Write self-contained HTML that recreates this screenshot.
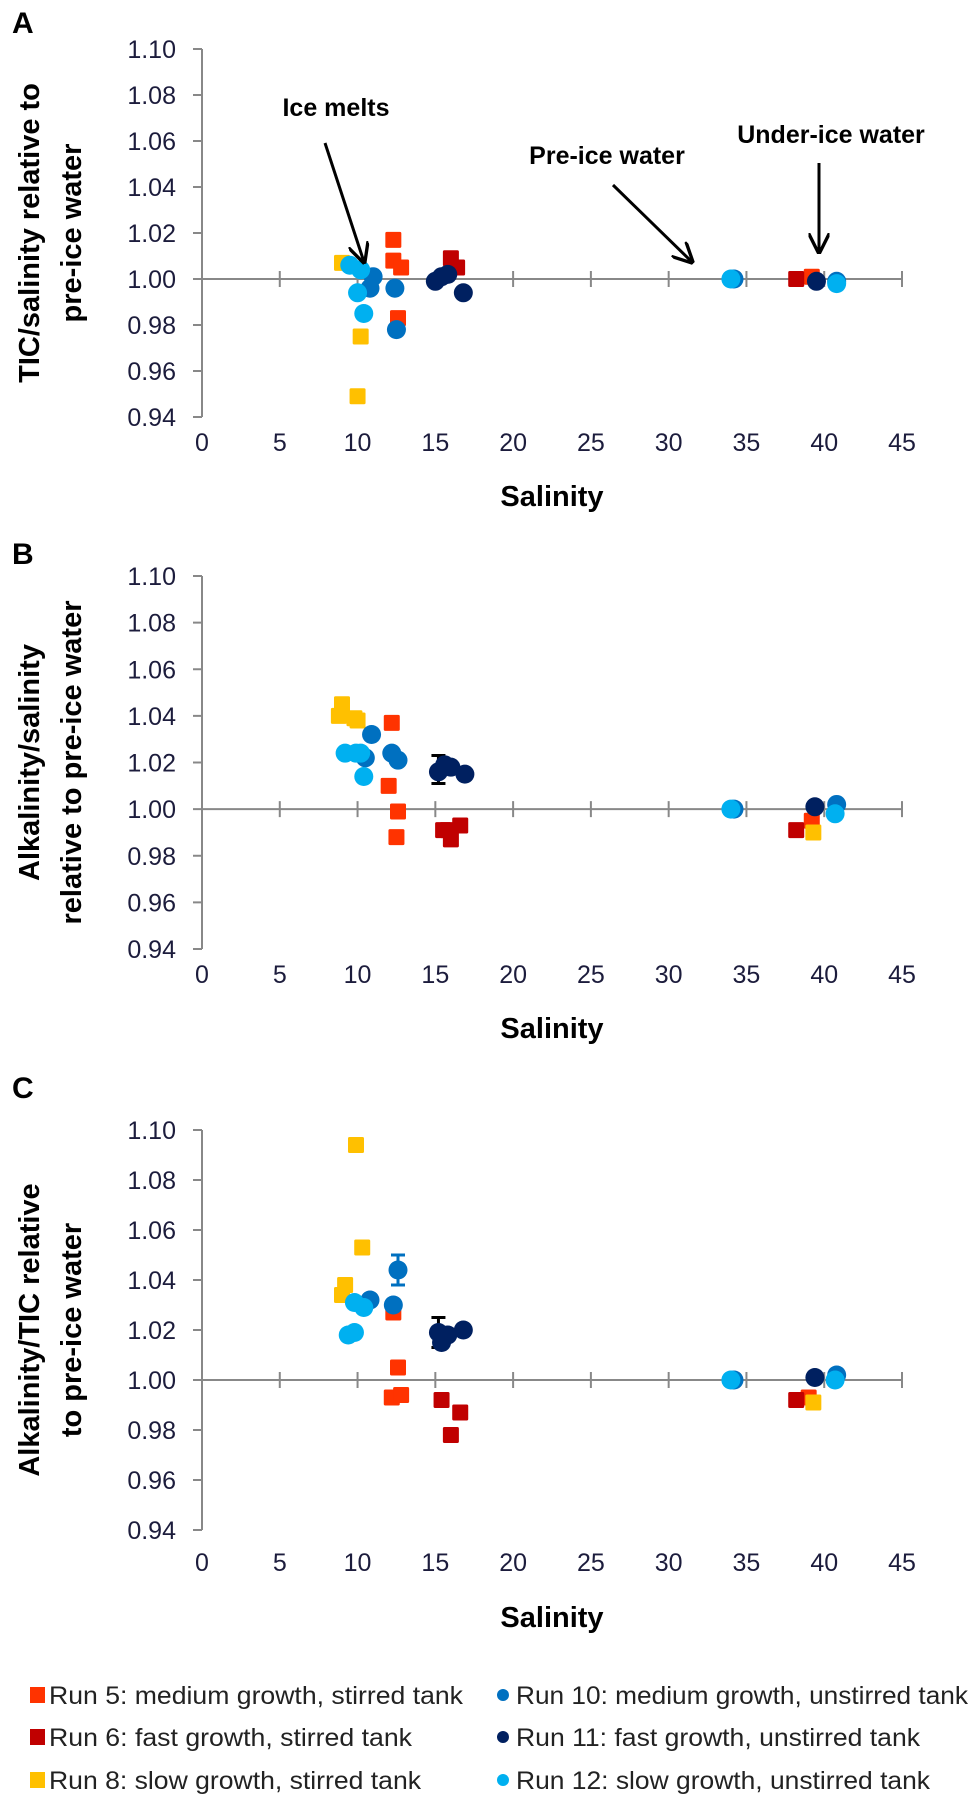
<!DOCTYPE html>
<html><head><meta charset="utf-8">
<style>
html,body{margin:0;padding:0;background:#fff;}
svg{display:block;font-family:"Liberation Sans",Arial,sans-serif;}
.tick{font-size:25px;fill:#1c1c3c;}
.ttl{font-size:29px;font-weight:bold;fill:#000;}
.ytl{font-size:29px;font-weight:bold;fill:#000;}
.leg{font-size:25px;fill:#222;}
.ann{font-size:25px;font-weight:bold;fill:#000;}
</style></head>
<body>
<svg id="chart" width="980" height="1803" viewBox="0 0 980 1803" xmlns="http://www.w3.org/2000/svg">
<defs><marker id="ah" viewBox="0 0 10 10" refX="9" refY="5" markerWidth="7" markerHeight="7" orient="auto"><path d="M0,0 L10,5 L0,10" fill="none" stroke="#000" stroke-width="1.6"/></marker></defs>
</svg>
<script>
// ---- data ----
const xTicks = [0,5,10,15,20,25,30,35,40,45];
const yTicks = [0.94,0.96,0.98,1.00,1.02,1.04,1.06,1.08,1.10];
const seriesNames = ["Run 5: medium growth, stirred tank","Run 6: fast growth, stirred tank","Run 8: slow growth, stirred tank","Run 10: medium growth, unstirred tank","Run 11: fast growth, unstirred tank","Run 12: slow growth, unstirred tank"];
const seriesColors = ["#ff3300","#c00000","#ffc000","#0070c0","#002060","#00b0f0"];
const seriesShapes = ["sq","sq","sq","ci","ci","ci"];

// Panel A: TIC/salinity
const aRun5x=[12.3,12.3,12.8,12.6,39.2], aRun5y=[1.017,1.008,1.005,0.983,1.001];
const aRun6x=[16.0,16.4,38.2], aRun6y=[1.009,1.005,1.000];
const aRun8x=[9.0,10.2,10.0], aRun8y=[1.007,0.975,0.949];
const aRun10x=[11.0,10.8,12.4,12.5,34.2,40.8], aRun10y=[1.001,0.996,0.996,0.978,1.000,0.999];
const aRun11x=[15.0,15.4,15.8,16.8,39.5], aRun11y=[0.999,1.001,1.002,0.994,0.999];
const aRun12x=[9.5,10.2,10.0,10.4,34.0,40.8], aRun12y=[1.006,1.004,0.994,0.985,1.000,0.998];

// Panel B: Alkalinity/salinity
const bRun5x=[12.2,12.0,12.6,12.5,39.2], bRun5y=[1.037,1.010,0.999,0.988,0.995];
const bRun6x=[15.5,16.0,16.6,15.8,38.2], bRun6y=[0.991,0.987,0.993,0.991,0.991];
const bRun8x=[9.0,8.8,9.8,10.0,39.3], bRun8y=[1.045,1.040,1.039,1.038,0.990];
const bRun10x=[10.9,10.5,12.2,12.6,34.2,40.8], bRun10y=[1.032,1.022,1.024,1.021,1.000,1.002];
const bRun11x=[15.2,15.6,16.0,16.9,39.4], bRun11y=[1.016,1.019,1.018,1.015,1.001];
const bRun12x=[9.2,9.9,10.2,10.4,34.0,40.7], bRun12y=[1.024,1.024,1.024,1.014,1.000,0.998];
const bErrX=[15.2], bErrLo=[1.011], bErrHi=[1.023], bErrC=["#000"];

// Panel C: Alkalinity/TIC
const cRun5x=[12.3,12.6,12.2,12.8,39.0], cRun5y=[1.027,1.005,0.993,0.994,0.993];
const cRun6x=[15.4,16.0,16.6,38.2], cRun6y=[0.992,0.978,0.987,0.992];
const cRun8x=[9.9,10.3,9.2,9.0,39.3], cRun8y=[1.094,1.053,1.038,1.034,0.991];
const cRun10x=[10.8,12.3,12.6,34.2,40.8], cRun10y=[1.032,1.030,1.044,1.000,1.002];
const cRun11x=[15.2,15.4,15.8,16.8,39.4], cRun11y=[1.019,1.015,1.018,1.020,1.001];
const cRun12x=[9.4,9.8,9.8,10.4,34.0,40.7], cRun12y=[1.018,1.019,1.031,1.029,1.000,1.000];
const cErrX=[12.6,15.2], cErrLo=[1.038,1.013], cErrHi=[1.050,1.025], cErrC=["#0070c0","#000"];

// ---- drawing ----
const svg=document.getElementById('chart');
const NS="http://www.w3.org/2000/svg";
function mk(tag,attrs,parent){const e=document.createElementNS(NS,tag);for(const k in attrs)e.setAttribute(k,attrs[k]);(parent||svg).appendChild(e);return e;}
const X0=202,X1=902;
function xs(v){return X0+(v-0)/(45-0)*(X1-X0);}

const panels=[
 {id:"a",letter:"A",top:49,bot:417,tickY:442,titleY:496,letterY:22,ytitle:["TIC/salinity  relative  to","pre-ice water"],
  xs:[aRun5x,aRun6x,aRun8x,aRun10x,aRun11x,aRun12x],ys:[aRun5y,aRun6y,aRun8y,aRun10y,aRun11y,aRun12y],err:null},
 {id:"b",letter:"B",top:576,bot:949,tickY:974,titleY:1028,letterY:553,ytitle:["Alkalinity/salinity","relative to pre-ice  water"],
  xs:[bRun5x,bRun6x,bRun8x,bRun10x,bRun11x,bRun12x],ys:[bRun5y,bRun6y,bRun8y,bRun10y,bRun11y,bRun12y],err:[bErrX,bErrLo,bErrHi,bErrC]},
 {id:"c",letter:"C",top:1130,bot:1530,tickY:1562,titleY:1617,letterY:1087,ytitle:["Alkalinity/TIC  relative","to pre-ice water"],
  xs:[cRun5x,cRun6x,cRun8x,cRun10x,cRun11x,cRun12x],ys:[cRun5y,cRun6y,cRun8y,cRun10y,cRun11y,cRun12y],err:[cErrX,cErrLo,cErrHi,cErrC]}
];

panels.forEach(p=>{
  const ys=v=>p.bot-(v-0.94)/(1.10-0.94)*(p.bot-p.top);
  const g=mk('g',{});
  
  
  const L=mk('text',{x:12,y:p.letterY+11,'font-size':30,'font-weight':'bold'},g);
  L.textContent=p.letter;
  
  
  const ya=mk('line',{x1:X0,y1:p.top,x2:X0,y2:p.bot,stroke:'#888','stroke-width':2},g);
  
  
  yTicks.forEach(t=>{
    const y=ys(t);
    mk('line',{x1:X0-9,y1:y,x2:X0,y2:y,stroke:'#888','stroke-width':2},g);
    const tx=mk('text',{x:176,y:y+9,'text-anchor':'end',class:'tick'},g);
    tx.textContent=t.toFixed(2);
    
    
  });
  const y1=ys(1.0);
  const xa=mk('line',{x1:X0,y1:y1,x2:X1,y2:y1,stroke:'#888','stroke-width':2},g);
  
  
  xTicks.forEach(t=>{
    const x=xs(t);
    if(t>0) mk('line',{x1:x,y1:y1-8,x2:x,y2:y1+8,stroke:'#888','stroke-width':2},g);
    const tx=mk('text',{x:x,y:p.tickY+9,'text-anchor':'middle',class:'tick'},g);
    tx.textContent=t;
    
    
  });
  const xt=mk('text',{x:552,y:p.titleY+10,'text-anchor':'middle',class:'ttl'},g);
  xt.textContent="Salinity";
  
  
  const cy=(p.top+p.bot)/2;
  p.ytitle.forEach((s,i)=>{
    const cx=i===0?29:71;
    const t=mk('text',{x:cx,y:cy,'text-anchor':'middle',class:'ytl',transform:`rotate(-90 ${cx} ${cy}) translate(0 10)`},g);
    t.textContent=s;
    
    
  });
  if(p.err){
    p.err[0].forEach((ex,i)=>{
      const x=xs(ex),a=ys(p.err[1][i]),b=ys(p.err[2][i]),c=p.err[3][i];
      const eb=mk('path',{d:`M${x},${a}L${x},${b}M${x-7},${a}L${x+7},${a}M${x-7},${b}L${x+7},${b}`,stroke:c,'stroke-width':3,fill:'none'},g);
      
      
    });
  }
  p.xs.forEach((arr,si)=>{
    arr.forEach((xv,i)=>{
      const x=xs(xv),y=ys(p.ys[si][i]),c=seriesColors[si];
      let m;
      if(seriesShapes[si]==='sq') m=mk('rect',{x:x-8,y:y-8,width:16,height:16,rx:1.5,fill:c},g);
      else m=mk('circle',{cx:x,cy:y,r:9.5,fill:c},g);
      
      
    });
  });
});

// annotations (panel A)
const anns=[["Ice melts",336,116,325,143,364,262],["Pre-ice water",607,164,613,185,692,262],["Under-ice water",831,143,819,163,819,252]];
anns.forEach(a=>{
  const t=mk('text',{x:a[1],y:a[2],'text-anchor':'middle',class:'ann'});
  t.textContent=a[0];
  
  
  const l=mk('line',{x1:a[3],y1:a[4],x2:a[5],y2:a[6],stroke:'#000','stroke-width':3,'marker-end':'url(#ah)'});
  
  
});

// legend
const legRows=[1695,1737,1780];
seriesNames.forEach((n,i)=>{
  const col=i<3?0:1,row=i%3,y=legRows[row];
  let m;
  if(col===0) m=mk('rect',{x:30,y:y-8,width:15,height:16,fill:seriesColors[i]});
  else m=mk('circle',{cx:503,cy:y,r:6,fill:seriesColors[i]});
  
  
  const t=mk('text',{x:col===0?49:516,y:y+9,class:'leg'});
  t.textContent=n;
  const widths=[414,363,372,452,404,414];
  t.setAttribute('textLength',widths[i]);
  t.setAttribute('lengthAdjust','spacingAndGlyphs');
  
  
});
</script>
</body></html>
